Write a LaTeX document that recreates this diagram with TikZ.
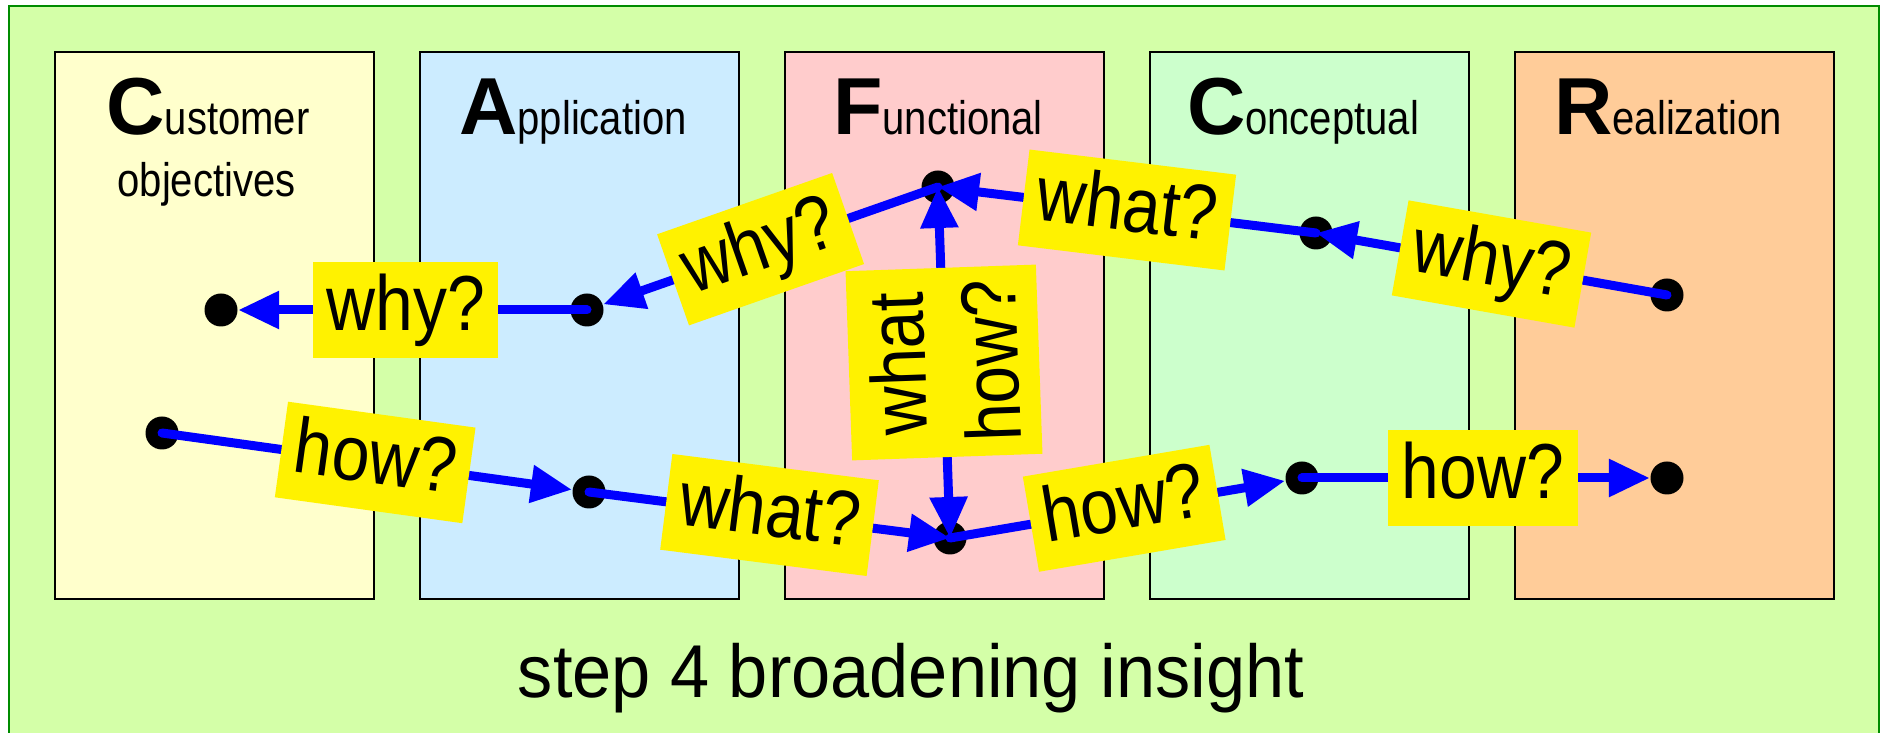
\documentclass[tikz,border=0pt]{standalone}
\usepackage{fontspec}
\setmainfont{Liberation Sans}
\usepackage{graphicx}
\usepackage{xcolor}
\usetikzlibrary{arrows.meta}

\definecolor{framegreen}{RGB}{212,255,168}
\definecolor{frameline}{RGB}{0,140,0}
\definecolor{custyellow}{RGB}{255,255,204}
\definecolor{appblue}{RGB}{204,236,255}
\definecolor{funcpink}{RGB}{255,204,204}
\definecolor{concgreen}{RGB}{204,255,204}
\definecolor{realorange}{RGB}{255,204,153}

\newcommand{\narrowtext}[1]{\scalebox{0.87}[1]{#1}}
\newcommand{\smalltitle}[1]{{\fontsize{13.4pt}{16pt}\selectfont\scalebox{0.85}[1]{#1}}}
\newcommand{\coltitle}[2]{{\fontsize{23pt}{27pt}\selectfont\bfseries #1}\smalltitle{#2}}

\begin{document}
\begin{tikzpicture}[
	>={Triangle[length=0.41cm, width=0.36cm]},
	dot/.style={circle, fill=black, minimum size=0.33cm, inner sep=0pt},
	flow/.style={->, draw=blue, line width=0.09cm, line cap=round},
	qbox/.style={fill=yellow, text=black, inner xsep=0.135cm, font=\fontsize{22.2pt}{26.5pt}\selectfont},
	qlabel/.style={qbox, inner ysep=0.11cm, text height=0.58cm, text depth=0.165cm},
	qlabeltwo/.style={qbox, inner ysep=0.2cm, align=center}
]

	\useasboundingbox (0, 0) rectangle (18.81, 7.33);

	\draw [draw=frameline, line width=0.5pt, fill=framegreen] (0.09, -0.2) rectangle (18.79, 7.27);

	\draw [fill=custyellow] (0.55, 1.34) rectangle (3.74, 6.81);
	\draw [fill=appblue] (4.20, 1.34) rectangle (7.39, 6.81);
	\draw [fill=funcpink] (7.85, 1.34) rectangle (11.04, 6.81);
	\draw [fill=concgreen] (11.50, 1.34) rectangle (14.69, 6.81);
	\draw [fill=realorange] (15.15, 1.34) rectangle (18.34, 6.81);

	\node [anchor=base] (tcust) at (2.08, 5.98) {\coltitle{C}{ustomer}};
	\node [anchor=base] (tobj) at (2.065, 5.36) {\smalltitle{objectives}};
	\node [anchor=base] (tapp) at (5.73, 5.98) {\coltitle{A}{pplication}};
	\node [anchor=base] (tfunc) at (9.38, 5.98) {\coltitle{F}{unctional}};
	\node [anchor=base] (tconc) at (13.03, 5.98) {\coltitle{C}{onceptual}};
	\node [anchor=base] (treal) at (16.68, 5.98) {\coltitle{R}{ealization}};

	\node [anchor=base] (caption) at (9.11, 0.35) {\fontsize{21.3pt}{25pt}\selectfont\scalebox{0.94}[1]{step 4 broadening insight}};

	\node [dot] (d1) at (2.21, 4.23) {};
	\node [dot] (d2) at (5.87, 4.23) {};
	\node [dot] (d3) at (9.38, 5.46) {};
	\node [dot] (d4) at (13.16, 5.00) {};
	\node [dot] (d5) at (16.67, 4.38) {};

	\node [dot] (e1) at (1.62, 3.00) {};
	\node [dot] (e2) at (5.89, 2.41) {};
	\node [dot] (e3) at (9.50, 1.95) {};
	\node [dot] (e4) at (13.02, 2.55) {};
	\node [dot] (e5) at (16.67, 2.55) {};

	\draw [flow] (d2.center) -- (d1) node [qlabel, pos=0.52] {\narrowtext{why?}};
	\draw [flow] (d3.center) -- (d2) node [qlabel, pos=0.53, sloped] {\narrowtext{why?}};
	\draw [flow] (d4.center) -- (d3.center) node [qlabel, midway, sloped] {\narrowtext{what?}};
	\draw [flow] (d5.center) -- (d4.center) node [qlabel, midway, sloped] {\narrowtext{why?}};

	\draw [flow] (e1.center) -- (e2) node [qlabel, pos=0.52, sloped] {\narrowtext{how?}};
	\draw [flow] (e2.center) -- (e3.center) node [qlabel, midway, sloped] {\narrowtext{what?}};
	\draw [flow] (e3.center) -- (e4) node [qlabel, pos=0.52, sloped] {\narrowtext{how?}};
	\draw [flow] (e4.center) -- (e5) node [qlabel, pos=0.52] {\narrowtext{how?}};

	\draw [flow, <->] (e3.center) -- (d3.center) node [qlabeltwo, midway, rotate=92] {\narrowtext{what}\\\narrowtext{how?}};

\end{tikzpicture}
\end{document}
